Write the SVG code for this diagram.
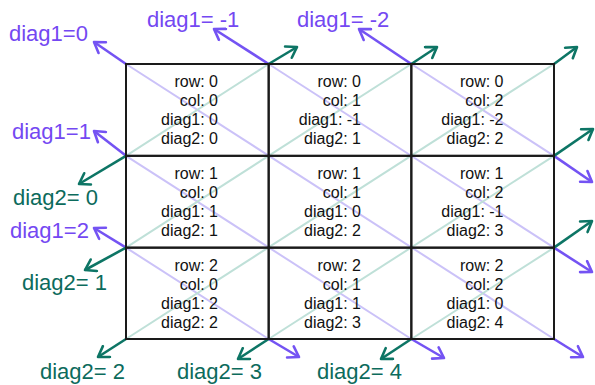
<svg xmlns="http://www.w3.org/2000/svg" width="595" height="385" viewBox="0 0 595 385">
<style>
.cell{fill:none;stroke:#1a1a1a;stroke-width:2}
.ct{font-family:"Liberation Sans",Arial,sans-serif;font-size:16px;fill:#111;text-anchor:end}
.lbl{font-family:"Liberation Sans",Arial,sans-serif;font-size:22px}
.lp{fill:#7448f2}
.lt{fill:#0c6b5c}
.dp{stroke:#cbc2f8;stroke-width:2;fill:none}
.dt{stroke:#bfe0d8;stroke-width:2;fill:none}
.ap{stroke:#7453f3;stroke-width:2.6;fill:none;marker-end:url(#mp)}
.at{stroke:#0d7565;stroke-width:2.6;fill:none;marker-end:url(#mt)}
</style>
<defs>
<marker id="mp" viewBox="-12 -8 14 16" markerWidth="14" markerHeight="16" refX="0" refY="0" orient="auto" markerUnits="userSpaceOnUse">
<path d="M-10,-6.5 L0,0 L-10,6.5" fill="none" stroke="#7453f3" stroke-width="2.6" stroke-linecap="round" stroke-linejoin="round"/>
</marker>
<marker id="mt" viewBox="-12 -8 14 16" markerWidth="14" markerHeight="16" refX="0" refY="0" orient="auto" markerUnits="userSpaceOnUse">
<path d="M-10,-6.5 L0,0 L-10,6.5" fill="none" stroke="#0d7565" stroke-width="2.6" stroke-linecap="round" stroke-linejoin="round"/>
</marker>
</defs>
<rect width="595" height="385" fill="#fff"/>
<g id="connectors">
<g id="diagonals">
<line class="dp" x1="126" y1="64" x2="554" y2="339"/>
<line class="dp" x1="268.67" y1="64" x2="554" y2="247.67"/>
<line class="dp" x1="411.33" y1="64" x2="554" y2="155.83"/>
<line class="dp" x1="126" y1="155.83" x2="411.33" y2="339"/>
<line class="dp" x1="126" y1="247.67" x2="268.67" y2="339"/>
<line class="dt" x1="126" y1="155.83" x2="268.67" y2="64"/>
<line class="dt" x1="126" y1="247.67" x2="411.33" y2="64"/>
<line class="dt" x1="126" y1="339" x2="554" y2="64"/>
<line class="dt" x1="268.67" y1="339" x2="554" y2="155.83"/>
<line class="dt" x1="411.33" y1="339" x2="554" y2="247.67"/>
</g>
<g id="arrows">
<line class="ap" x1="126" y1="64" x2="94" y2="42"/>
<line class="ap" x1="268.67" y1="64" x2="214" y2="29"/>
<line class="ap" x1="411.33" y1="64" x2="359" y2="29"/>
<line class="ap" x1="126" y1="155.83" x2="94" y2="131"/>
<line class="ap" x1="126" y1="247.67" x2="94" y2="228"/>
<line class="ap" x1="554" y1="155.83" x2="592" y2="182"/>
<line class="ap" x1="554" y1="247.67" x2="592" y2="272"/>
<line class="ap" x1="554" y1="339" x2="583" y2="357"/>
<line class="ap" x1="411.33" y1="339" x2="444" y2="358"/>
<line class="ap" x1="268.67" y1="339" x2="299" y2="357"/>
<line class="at" x1="126" y1="155.83" x2="79" y2="184"/>
<line class="at" x1="126" y1="247.67" x2="85" y2="270"/>
<line class="at" x1="126" y1="339" x2="98" y2="357"/>
<line class="at" x1="268.67" y1="339" x2="238" y2="359"/>
<line class="at" x1="411.33" y1="339" x2="381" y2="359"/>
<line class="at" x1="268.67" y1="64" x2="297" y2="47"/>
<line class="at" x1="411.33" y1="64" x2="437" y2="47"/>
<line class="at" x1="554" y1="64" x2="577" y2="47"/>
<line class="at" x1="554" y1="155.83" x2="593" y2="129"/>
<line class="at" x1="554" y1="247.67" x2="592" y2="221"/>
</g>
</g>
<g id="cell-r0c0"><rect class="cell" x="126" y="64" width="142.67" height="91.83"/><text class="ct"><tspan x="218" y="87">row: 0</tspan><tspan x="218" y="106">col: 0</tspan><tspan x="218" y="125">diag1: 0</tspan><tspan x="218" y="144">diag2: 0</tspan></text></g>
<g id="cell-r0c1"><rect class="cell" x="268.67" y="64" width="142.67" height="91.83"/><text class="ct"><tspan x="361" y="87">row: 0</tspan><tspan x="361" y="106">col: 1</tspan><tspan x="361" y="125">diag1: -1</tspan><tspan x="361" y="144">diag2: 1</tspan></text></g>
<g id="cell-r0c2"><rect class="cell" x="411.33" y="64" width="142.67" height="91.83"/><text class="ct"><tspan x="503.5" y="87">row: 0</tspan><tspan x="503.5" y="106">col: 2</tspan><tspan x="503.5" y="125">diag1: -2</tspan><tspan x="503.5" y="144">diag2: 2</tspan></text></g>
<g id="cell-r1c0"><rect class="cell" x="126" y="155.83" width="142.67" height="91.83"/><text class="ct"><tspan x="218" y="179">row: 1</tspan><tspan x="218" y="198">col: 0</tspan><tspan x="218" y="217">diag1: 1</tspan><tspan x="218" y="236">diag2: 1</tspan></text></g>
<g id="cell-r1c1"><rect class="cell" x="268.67" y="155.83" width="142.67" height="91.83"/><text class="ct"><tspan x="361" y="179">row: 1</tspan><tspan x="361" y="198">col: 1</tspan><tspan x="361" y="217">diag1: 0</tspan><tspan x="361" y="236">diag2: 2</tspan></text></g>
<g id="cell-r1c2"><rect class="cell" x="411.33" y="155.83" width="142.67" height="91.83"/><text class="ct"><tspan x="503.5" y="179">row: 1</tspan><tspan x="503.5" y="198">col: 2</tspan><tspan x="503.5" y="217">diag1: -1</tspan><tspan x="503.5" y="236">diag2: 3</tspan></text></g>
<g id="cell-r2c0"><rect class="cell" x="126" y="247.67" width="142.67" height="91.33"/><text class="ct"><tspan x="218" y="271">row: 2</tspan><tspan x="218" y="290">col: 0</tspan><tspan x="218" y="309">diag1: 2</tspan><tspan x="218" y="328">diag2: 2</tspan></text></g>
<g id="cell-r2c1"><rect class="cell" x="268.67" y="247.67" width="142.67" height="91.33"/><text class="ct"><tspan x="361" y="271">row: 2</tspan><tspan x="361" y="290">col: 1</tspan><tspan x="361" y="309">diag1: 1</tspan><tspan x="361" y="328">diag2: 3</tspan></text></g>
<g id="cell-r2c2"><rect class="cell" x="411.33" y="247.67" width="142.67" height="91.33"/><text class="ct"><tspan x="503.5" y="271">row: 2</tspan><tspan x="503.5" y="290">col: 2</tspan><tspan x="503.5" y="309">diag1: 0</tspan><tspan x="503.5" y="328">diag2: 4</tspan></text></g>
<g id="labels">
<text id="lbl-d1-0" class="lbl lp" x="9" y="41">diag1=0</text>
<text id="lbl-d1-m1" class="lbl lp" x="147" y="27">diag1= -1</text>
<text id="lbl-d1-m2" class="lbl lp" x="297" y="27">diag1= -2</text>
<text id="lbl-d1-1" class="lbl lp" x="12" y="139">diag1=1</text>
<text id="lbl-d1-2" class="lbl lp" x="10" y="238">diag1=2</text>
<text id="lbl-d2-0" class="lbl lt" x="13" y="205">diag2= 0</text>
<text id="lbl-d2-1" class="lbl lt" x="22" y="290">diag2= 1</text>
<text id="lbl-d2-2" class="lbl lt" x="40" y="379">diag2= 2</text>
<text id="lbl-d2-3" class="lbl lt" x="177" y="379">diag2= 3</text>
<text id="lbl-d2-4" class="lbl lt" x="317" y="379">diag2= 4</text>
</g>
</svg>
